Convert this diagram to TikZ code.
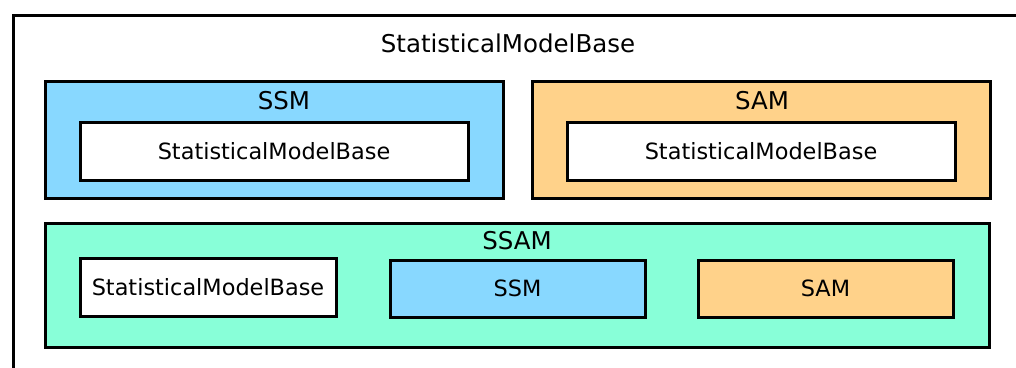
\documentclass[tikz,border=0pt]{standalone}
\usepackage{fontspec}
\setmainfont{DejaVu Sans}
\definecolor{ssmblue}{RGB}{136,216,255}
\definecolor{samorange}{RGB}{255,210,138}
\definecolor{ssammint}{RGB}{136,255,216}
\begin{document}
\begin{tikzpicture}[x=1pt,y=-1pt,
  box/.style={draw=black,line width=3pt},
  grouplabel/.style={font=\fontsize{24.5}{28}\selectfont,inner sep=0pt},
  inlabel/.style={font=\fontsize{22.4}{26}\selectfont,inner sep=0pt}]
\useasboundingbox (0,0) rectangle (1016,367);
\clip (0,0) rectangle (1016,367);
\fill[white] (0,0) rectangle (1016,367);
% outer
\draw[box] (13,15) rectangle (1040,400);
\node[grouplabel] (top) at (508,43) {StatisticalModelBase};
% SSM
\draw[box,fill=ssmblue] (45,81) rectangle (503,198);
\node[grouplabel] (ssmlab) at (284,101) {SSM};
\node[box,fill=white,minimum width=388pt,minimum height=58pt,inlabel] (ssmbase) at (274,151) {StatisticalModelBase};
% SAM
\draw[box,fill=samorange] (532,81) rectangle (990,198);
\node[grouplabel] (samlab) at (762,101) {SAM};
\node[box,fill=white,minimum width=388pt,minimum height=58pt,inlabel] (sambase) at (761,151) {StatisticalModelBase};
% SSAM
\draw[box,fill=ssammint] (45,223) rectangle (989,347);
\node[grouplabel] (ssamlab) at (517,241) {SSAM};
\node[box,fill=white,minimum width=256pt,minimum height=58pt,inlabel] (ssambase) at (208,287) {StatisticalModelBase};
\node[box,fill=ssmblue,minimum width=255pt,minimum height=57pt,inlabel] (ssamssm) at (517.5,288.5) {SSM};
\node[box,fill=samorange,minimum width=255pt,minimum height=57pt,inlabel] (ssamsam) at (825.5,288.5) {SAM};
\end{tikzpicture}
\end{document}
